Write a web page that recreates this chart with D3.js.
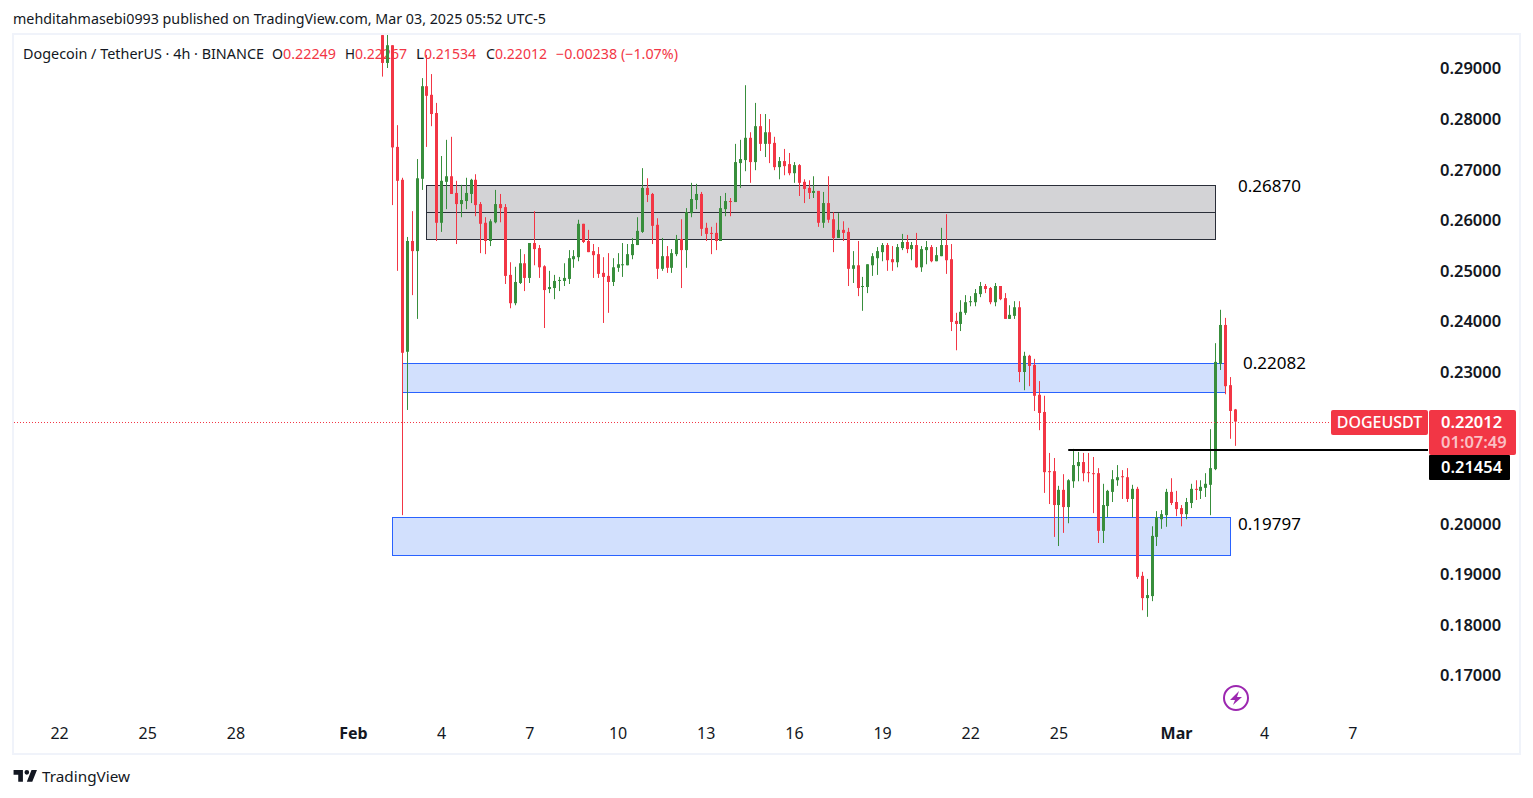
<!DOCTYPE html>
<html>
<head>
<meta charset="utf-8">
<script src="https://cdnjs.cloudflare.com/ajax/libs/d3/7.8.5/d3.min.js"></script>
<style>
  html, body { margin: 0; padding: 0; background: #fff; }
  text { font-family: "Noto Sans", sans-serif; }
</style>
</head>
<body>
<svg id="chart" width="1533" height="798"></svg>
<script>
// 4h candles, first one opens Feb 2 00:00
const opens = [
  .2965,.2910,.2945,.2744,.2679,.2339,.2558,.2538,.2681,.2864,.2847,.2811,.2594,.2675,.2686,.2653,.2631,.2637,.2651,.2679,
  .2631,.2594,.2558,.2595,.2631,.2625,.2491,.2435,.2475,.2514,.2485,.2554,.2544,.2508,.2463,.2465,.2479,.2479,.2483,.2522,
  .2526,.2592,.2558,.2538,.2532,.2495,.2489,.2477,.2505,.2510,.2510,.2530,.2550,.2576,.2663,.2651,.2590,.2503,.2528,.2505,
  .2532,.2562,.2540,.2613,.2639,.2651,.2584,.2574,.2574,.2558,.2621,.2637,.2635,.2712,.2718,.2762,.2714,.2785,.2750,.2773,
  .2752,.2704,.2716,.2710,.2692,.2708,.2675,.2663,.2653,.2657,.2594,.2633,.2601,.2564,.2580,.2576,.2503,.2510,.2467,.2467,
  .2510,.2524,.2536,.2550,.2522,.2516,.2544,.2556,.2542,.2550,.2506,.2540,.2546,.2518,.2528,.2550,.2522,.2400,.2394,.2416,
  .2437,.2437,.2453,.2469,.2465,.2437,.2469,.2445,.2404,.2410,.2427,.2299,.2331,.2313,.2254,.2220,.2103,.2103,.2036,.2066,
  .2032,.2083,.2113,.2121,.2101,.2099,.2099,.1985,.2034,.2062,.2085,.2093,.2091,.2048,.2068,.1896,.1852,.1856,.1973,.2008,
  .2016,.2062,.2042,.2030,.2018,.2040,.2068,.2064,.2070,.2076,.2107,.2315,.2392,.2273,.2225
];
const closes = [
  .2910,.2945,.2743,.2677,.2337,.2558,.2538,.2682,.2864,.2845,.2809,.2594,.2677,.2686,.2651,.2631,.2639,.2653,.2679,.2629,
  .2592,.2558,.2597,.2631,.2623,.2489,.2435,.2477,.2514,.2485,.2554,.2542,.2506,.2461,.2467,.2479,.2481,.2485,.2524,.2528,
  .2592,.2556,.2536,.2530,.2493,.2487,.2477,.2506,.2512,.2512,.2532,.2552,.2578,.2663,.2649,.2588,.2503,.2528,.2505,.2534,
  .2562,.2540,.2615,.2641,.2651,.2582,.2572,.2572,.2558,.2623,.2637,.2635,.2714,.2720,.2762,.2714,.2785,.2750,.2773,.2750,
  .2704,.2716,.2706,.2692,.2708,.2673,.2661,.2653,.2657,.2594,.2633,.2600,.2564,.2580,.2574,.2503,.2510,.2465,.2469,.2512,
  .2528,.2538,.2550,.2520,.2516,.2546,.2556,.2542,.2550,.2506,.2542,.2546,.2518,.2530,.2550,.2520,.2398,.2394,.2418,.2437,
  .2439,.2455,.2469,.2463,.2437,.2469,.2443,.2404,.2412,.2427,.2299,.2331,.2311,.2252,.2218,.2101,.2101,.2036,.2066,.2032,
  .2085,.2115,.2121,.2099,.2099,.2097,.1985,.2036,.2064,.2087,.2091,.2091,.2048,.2068,.1894,.1852,.1858,.1975,.2012,.2018,
  .2062,.2040,.2028,.2018,.2042,.2068,.2066,.2072,.2078,.2109,.2319,.2392,.2271,.2222,.2201
];
const highs = [
  .2969,.2967,.2945,.2787,.2683,.2566,.2617,.2720,.2880,.2926,.2888,.2831,.2726,.2758,.2764,.2677,.2669,.2683,.2681,.2690,
  .2635,.2605,.2601,.2659,.2651,.2631,.2516,.2507,.2542,.2532,.2554,.2617,.2550,.2510,.2499,.2491,.2487,.2514,.2540,.2540,
  .2600,.2592,.2580,.2552,.2546,.2526,.2534,.2524,.2534,.2554,.2552,.2564,.2605,.2702,.2682,.2653,.2603,.2564,.2548,.2542,
  .2570,.2601,.2623,.2673,.2671,.2655,.2594,.2586,.2594,.2647,.2653,.2643,.2750,.2758,.2866,.2773,.2831,.2809,.2809,.2799,
  .2764,.2724,.2740,.2732,.2714,.2710,.2680,.2678,.2686,.2657,.2655,.2686,.2615,.2613,.2597,.2584,.2538,.2558,.2487,.2512,
  .2534,.2546,.2554,.2554,.2548,.2552,.2572,.2570,.2556,.2574,.2548,.2558,.2550,.2546,.2584,.2611,.2552,.2416,.2441,.2451,
  .2449,.2463,.2477,.2473,.2467,.2475,.2469,.2455,.2431,.2439,.2439,.2339,.2333,.2325,.2281,.2252,.2139,.2129,.2074,.2097,
  .2087,.2147,.2141,.2139,.2139,.2131,.2109,.2078,.2066,.2105,.2115,.2105,.2109,.2076,.2072,.1904,.1890,.1994,.2024,.2026,
  .2068,.2089,.2064,.2036,.2050,.2078,.2085,.2085,.2099,.2186,.2356,.2422,.2406,.2289,.2226
];
const lows = [
  .2883,.2900,.2629,.2499,.2016,.2224,.2451,.2404,.2659,.2744,.2785,.2558,.2576,.2621,.2651,.2552,.2605,.2621,.2633,.2607,
  .2534,.2532,.2548,.2593,.2595,.2473,.2425,.2431,.2473,.2459,.2475,.2510,.2485,.2386,.2455,.2443,.2459,.2469,.2473,.2505,
  .2518,.2554,.2536,.2485,.2485,.2396,.2416,.2469,.2497,.2487,.2510,.2522,.2550,.2574,.2635,.2552,.2483,.2499,.2495,.2495,
  .2528,.2465,.2505,.2605,.2621,.2568,.2558,.2532,.2540,.2558,.2607,.2607,.2635,.2663,.2696,.2673,.2698,.2736,.2724,.2712,
  .2698,.2680,.2688,.2688,.2673,.2647,.2633,.2641,.2643,.2586,.2584,.2594,.2536,.2564,.2558,.2469,.2475,.2449,.2420,.2455,
  .2489,.2491,.2518,.2499,.2499,.2506,.2540,.2534,.2520,.2505,.2497,.2512,.2516,.2518,.2528,.2493,.2380,.2342,.2380,.2412,
  .2429,.2429,.2447,.2455,.2433,.2429,.2441,.2404,.2404,.2404,.2279,.2263,.2271,.2222,.2184,.2060,.2038,.1973,.1955,.1981,
  .2000,.2070,.2083,.2083,.2081,.2020,.1961,.1961,.2012,.2042,.2074,.2048,.2042,.2012,.1890,.1828,.1815,.1846,.1955,.1989,
  .1993,.2036,.2014,.1994,.2008,.2030,.2046,.2048,.2052,.2016,.2105,.2303,.2255,.2167,.2153
];

const priceTicks = [0.29, 0.28, 0.27, 0.26, 0.25, 0.24, 0.23, 0.20, 0.19, 0.18, 0.17];
const dayTicks = ['2025-01-22','2025-01-25','2025-01-28','2025-02-01','2025-02-04','2025-02-07','2025-02-10','2025-02-13',
  '2025-02-16','2025-02-19','2025-02-22','2025-02-25','2025-03-01','2025-03-04','2025-03-07'].map(d => new Date(d + 'T00:00Z'));

// [price top, price bottom, from bar, to bar]
const grayZone = [0.26687, 0.25629, 9, 170];
const grayMid = 0.26163;
const blueZoneUpper = [0.23167, 0.22594, 4, 172];
const blueZoneLower = [0.20133, 0.19382, 2, 173];
const lastPrice = 0.22012;
const linePrice = 0.21454;
const lineFromBar = 140;
const notes = [['0.26870', 1238, 186], ['0.22082', 1243, 363], ['0.19797', 1238, 524]];

const RED = '#f23645', GREEN = '#388e3c', DARK = '#131722';
const firstBar = new Date('2025-02-02T00:00Z');
const barTime = i => d3.utcHour.offset(firstBar, i * 4);

const svg = d3.select('#chart');

const x = d3.scaleUtc()
  .domain([new Date('2025-02-01T00:00Z'), new Date('2025-03-01T00:00Z')])
  .range([353, 1176]);
const y = d3.scaleLinear().domain([0.17, 0.29]).range([675, 68]);

// outer frame
svg.append('rect')
  .attr('x', 13).attr('y', 34).attr('width', 1507).attr('height', 720)
  .attr('fill', '#fff').attr('stroke', '#f0f3fa').attr('stroke-width', 2);

svg.append('text')
  .attr('x', 13).attr('y', 24)
  .attr('font-size', 14).attr('fill', DARK)
  .attr('textLength', 533).attr('lengthAdjust', 'spacingAndGlyphs')
  .text('mehditahmasebi0993 published on TradingView.com, Mar 03, 2025 05:52 UTC-5');

// legend line, each piece sits at its own x
const legendParts = [
  ['Dogecoin / TetherUS · 4h · BINANCE', DARK, 23, 241], ['O', DARK, 272, 11], ['0.22249', RED, 283, 53],
  ['H', DARK, 345, 10], ['0.22267', RED, 355, 52], ['L', DARK, 416, 8], ['0.21534', RED, 424, 52],
  ['C', DARK, 486, 9], ['0.22012', RED, 495, 52], ['−0.00238 (−1.07%)', RED, 556, 122]
];
svg.selectAll('text.legend').data(legendParts).join('text')
  .attr('class', 'legend')
  .attr('x', d => d[2]).attr('y', 59)
  .attr('font-size', 14).attr('fill', d => d[1])
  .attr('textLength', d => d[3]).attr('lengthAdjust', 'spacingAndGlyphs')
  .text(d => d[0]);

svg.append('clipPath').attr('id', 'pane').append('rect')
  .attr('x', 14).attr('y', 35).attr('width', 1505).attr('height', 718);
const pane = svg.append('g').attr('clip-path', 'url(#pane)');

// zones
function zone(z, fill, stroke) {
  pane.append('rect')
    .attr('x', Math.round(x(barTime(z[2]))) + 0.5)
    .attr('y', Math.round(y(z[0])) + 0.5)
    .attr('width', Math.round(x(barTime(z[3])) - x(barTime(z[2]))))
    .attr('height', Math.round(y(z[1]) - y(z[0])))
    .attr('fill', fill).attr('stroke', stroke).attr('stroke-width', 1);
}
zone(grayZone, '#d3d3d6', '#2a2e39');
zone(blueZoneUpper, '#d2e0fd', '#2962ff');
zone(blueZoneLower, '#d2e0fd', '#2962ff');
pane.append('line')
  .attr('x1', x(barTime(grayZone[2]))).attr('x2', x(barTime(grayZone[3])))
  .attr('y1', Math.round(y(grayMid)) + 0.5).attr('y2', Math.round(y(grayMid)) + 0.5)
  .attr('stroke', '#2a2e39');

// candles
const bars = d3.range(opens.length);
const candle = pane.selectAll('g.candle').data(bars).join('g')
  .attr('class', 'candle')
  .attr('fill', i => closes[i] >= opens[i] ? GREEN : RED);
candle.append('rect')
  .attr('x', i => Math.round(x(barTime(i))))
  .attr('width', 1)
  .attr('y', i => y(highs[i]))
  .attr('height', i => y(lows[i]) - y(highs[i]));
candle.append('rect')
  .attr('x', i => Math.round(x(barTime(i))) - 1)
  .attr('width', 3)
  .attr('y', i => y(Math.max(opens[i], closes[i])))
  .attr('height', i => Math.max(1, Math.abs(y(opens[i]) - y(closes[i]))));

// last price dotted line, horizontal ray
pane.append('line')
  .attr('x1', 14).attr('x2', 1428)
  .attr('y1', Math.ceil(y(lastPrice)) + 0.5).attr('y2', Math.ceil(y(lastPrice)) + 0.5)
  .attr('stroke', RED).attr('stroke-width', 1).attr('stroke-dasharray', '1 2')
  .attr('shape-rendering', 'crispEdges');
pane.append('line')
  .attr('x1', x(barTime(lineFromBar))).attr('x2', 1428)
  .attr('y1', Math.round(y(linePrice))).attr('y2', Math.round(y(linePrice)))
  .attr('stroke', '#000').attr('stroke-width', 2);

// notes
svg.selectAll('text.note').data(notes).join('text')
  .attr('class', 'note')
  .attr('x', d => d[1]).attr('y', d => d[2] + 6)
  .attr('font-size', 17).attr('fill', '#000')
  .text(d => d[0]);

// price axis
const yAxis = svg.append('g')
  .attr('transform', 'translate(1440,0.6)')
  .call(d3.axisRight(y).tickValues(priceTicks).tickSize(0).tickPadding(0).tickFormat(d3.format('.5f')));
yAxis.select('.domain').remove();
yAxis.selectAll('text')
  .style('font-family', '"Noto Sans", sans-serif')
  .attr('font-size', 16.5).attr('font-weight', 600).attr('fill', DARK);

// time axis
const xAxis = svg.append('g')
  .attr('transform', 'translate(0,728)')
  .call(d3.axisBottom(x).tickValues(dayTicks).tickSize(0).tickPadding(0)
    .tickFormat(d => d.getUTCDate() === 1 ? d3.utcFormat('%b')(d) : String(d.getUTCDate())));
xAxis.select('.domain').remove();
xAxis.selectAll('text')
  .style('font-family', '"Noto Sans", sans-serif')
  .attr('font-size', 16).attr('fill', DARK)
  .attr('font-weight', d => d.getUTCDate() === 1 ? 700 : 400);

// price tags
svg.append('rect').attr('x', 1331).attr('y', 410).attr('width', 97).attr('height', 25).attr('rx', 2).attr('fill', RED);
svg.append('text').attr('x', 1379.5).attr('y', 428).attr('text-anchor', 'middle')
  .attr('font-size', 16).attr('font-weight', 500).attr('fill', '#fff').text('DOGEUSDT');
svg.append('rect').attr('x', 1429).attr('y', 410).attr('width', 87).attr('height', 45).attr('rx', 2).attr('fill', RED);
svg.append('text').attr('x', 1441).attr('y', 428)
  .attr('font-size', 16.5).attr('font-weight', 600).attr('fill', '#fff').text(d3.format('.5f')(lastPrice));
svg.append('text').attr('x', 1441).attr('y', 448)
  .attr('font-size', 16.5).attr('font-weight', 600).attr('fill', '#fff').attr('fill-opacity', 0.7).text('01:07:49');
svg.append('rect').attr('x', 1429).attr('y', 455).attr('width', 81).attr('height', 25).attr('rx', 1).attr('fill', '#000');
svg.append('text').attr('x', 1441).attr('y', 473)
  .attr('font-size', 16.5).attr('font-weight', 600).attr('fill', '#fff').text(d3.format('.5f')(linePrice));

// bolt icon
const bolt = svg.append('g').attr('transform', 'translate(1236,698)');
bolt.append('circle').attr('r', 12).attr('fill', '#fff').attr('stroke', '#9c27b0').attr('stroke-width', 2);
bolt.append('path').attr('d', 'M3 -7 L-6 2 L-1 2 L-3 7 L6 -1 L1 -1 Z').attr('fill', '#9c27b0');

// logo
svg.append('path')
  .attr('transform', 'translate(12,765.3) scale(0.78)')
  .attr('fill', DARK)
  .attr('d', 'M14 6H2v6h6v9h6V6zm12 15h-7l6-15h7l-6 15zm-7-9a3 3 0 1 0 0-6 3 3 0 0 0 0 6z');
svg.append('text').attr('x', 42).attr('y', 782)
  .attr('font-size', 15).attr('fill', DARK)
  .attr('textLength', 88).attr('lengthAdjust', 'spacingAndGlyphs')
  .text('TradingView');
</script>
</body>
</html>
